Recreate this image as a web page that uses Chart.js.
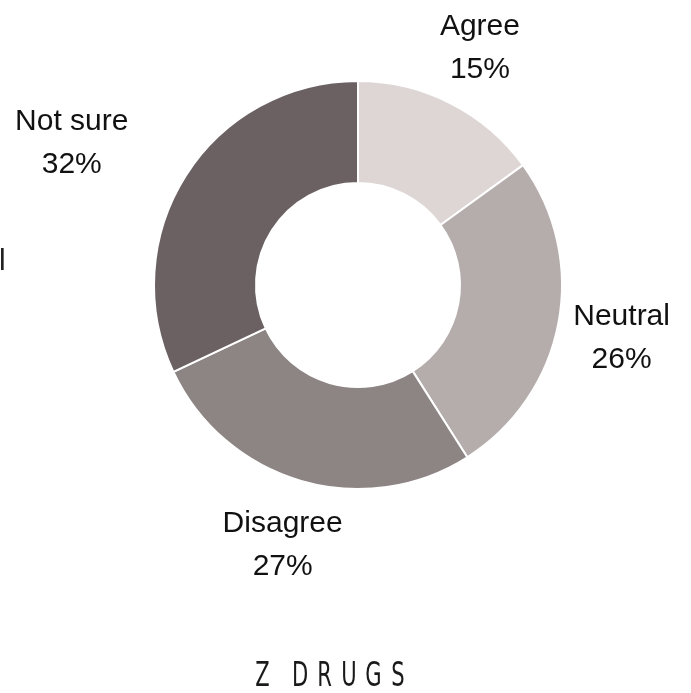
<!DOCTYPE html>
<html>
<head>
<meta charset="utf-8">
<script src="https://cdn.jsdelivr.net/npm/chart.js@4"></script>
<style>
  body { margin: 0; background: #fff; }
  canvas { display: block; }
</style>
</head>
<body>
<canvas id="drugs-chart" width="691" height="693"></canvas>
<script>
// data
const categories = ["Agree", "Neutral", "Disagree", "Not sure"]
const shares = [15, 26, 27, 32]
const chartTitle = "Z DRUGS"

const sliceColors = ["#ddd6d4", "#b5adab", "#8d8584", "#6b6163"]
// small nudges for the outside labels (style only)
const labelShift = [[0, 3], [0, 3], [0, 1], [-47, 10]]

const outsideLabels = {
  id: "outsideLabels",
  afterDraw(chart) {
    const ctx = chart.ctx
    const meta = chart.getDatasetMeta(0)
    const total = shares.reduce((a, b) => a + b, 0)
    ctx.save()
    ctx.font = "30px 'Liberation Sans', Arial, sans-serif"
    ctx.fillStyle = "#111"
    ctx.textAlign = "center"
    ctx.textBaseline = "middle"
    meta.data.forEach((arc, i) => {
      const p = arc.getProps(["x", "y", "startAngle", "endAngle", "outerRadius"], true)
      const mid = (p.startAngle + p.endAngle) / 2
      const line1 = categories[i]
      const line2 = Math.round(shares[i] / total * 100) + "%"
      const halfW = Math.max(ctx.measureText(line1).width, ctx.measureText(line2).width) / 2
      const halfH = 42
      const dist = p.outerRadius + 9 + halfW * Math.abs(Math.cos(mid)) + halfH * Math.abs(Math.sin(mid))
      const x = p.x + dist * Math.cos(mid) + labelShift[i][0]
      const y = p.y + dist * Math.sin(mid) + labelShift[i][1]
      ctx.fillText(line1, x, y - 21.5)
      ctx.fillText(line2, x, y + 21.5)
    })

    // clipped bit of text at the left edge
    ctx.textAlign = "left"
    ctx.fillStyle = "#222"
    ctx.fillText("l", -1, 262)

    // title, narrow spaced letters
    ctx.font = "34px 'DejaVu Sans', sans-serif"
    ctx.fillStyle = "#1a1a1a"
    ctx.textAlign = "center"
    ctx.textBaseline = "alphabetic"
    let x = 262.5
    chartTitle.split("").forEach(c => {
      if (c === " ") { x += 13; return }
      ctx.save()
      ctx.translate(x, 686)
      ctx.scale(0.62, 1)
      ctx.fillText(c, 0, 0)
      ctx.restore()
      x += 24.5
    })
    ctx.restore()
  }
}

let drugsChart = new Chart(document.getElementById("drugs-chart"), {
  type: "doughnut",
  data: {
    labels: categories,
    datasets: [
      {
        data: shares,
        backgroundColor: sliceColors,
        borderColor: "#ffffff",
        borderWidth: 2,
        hoverOffset: 0
      }
    ]
  },
  options: {
    responsive: false,
    animation: false,
    cutout: "50%",
    layout: {
      padding: { left: 153, right: 128, top: 80, bottom: 203 }
    },
    plugins: {
      legend: { display: false },
      tooltip: { enabled: false },
      title: { display: false }
    }
  },
  plugins: [outsideLabels]
})
</script>
</body>
</html>
